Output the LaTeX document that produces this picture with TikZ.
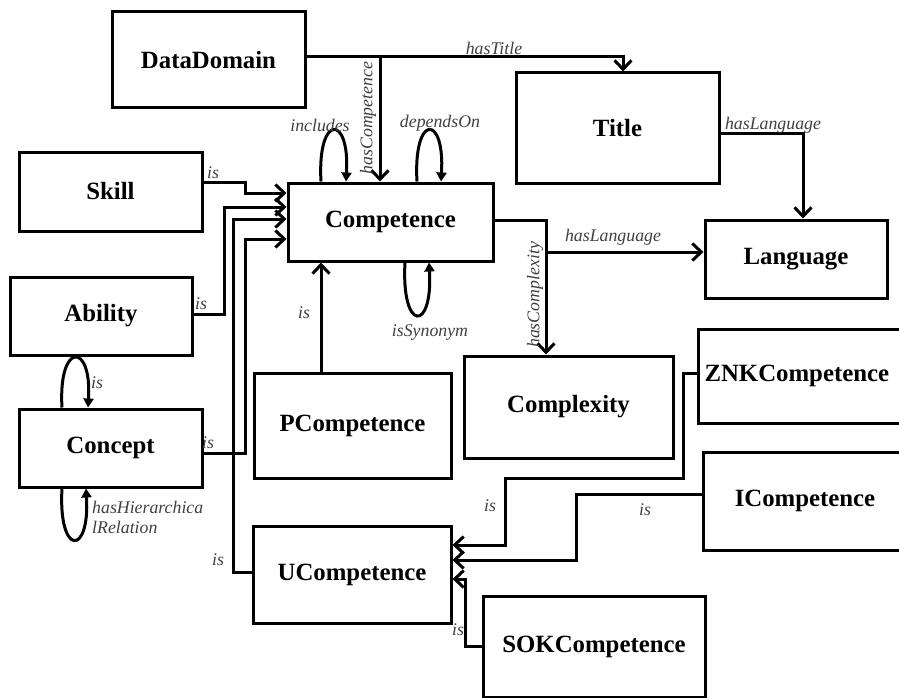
\documentclass[tikz,border=0pt]{standalone}
\usepackage{fontspec}
\setmainfont{Liberation Serif}
\usetikzlibrary{arrows.meta}
\begin{document}
\begin{tikzpicture}[x=1pt,y=-1pt,
  box/.style={draw, line width=3pt, inner sep=0pt, font=\bfseries\fontsize{24.8}{28}\selectfont},
  lbl/.style={font=\itshape\fontsize{17.8}{20}\selectfont, text=black!75, inner sep=0pt},
  conn/.style={line width=3pt, -{Straight Barb[length=9pt,width=17pt]}},
  selfloop/.style={line width=3pt, -{Triangle[length=9pt,width=10pt]}}]
\useasboundingbox (0,0) rectangle (899,698);
% nodes
\node[box, minimum width=193pt, minimum height=96pt] (DataDomain) at (208.5,60) {DataDomain};
\node[box, minimum width=203pt, minimum height=110pt] (Title) at (617.5,128) {Title};
\node[box, minimum width=183pt, minimum height=79pt] (Skill) at (110.5,191.5) {Skill};
\node[box, minimum width=205pt, minimum height=78pt] (Competence) at (390.5,222) {Competence};
\node[box, minimum width=182pt, minimum height=78pt] (Language) at (796,259) {Language};
\node[box, minimum width=182pt, minimum height=78pt] (Ability) at (101,316) {Ability};
\node[box, minimum width=183pt, minimum height=78pt] (Concept) at (110.5,448) {Concept};
\node[box, minimum width=197pt, minimum height=105pt] (PCompetence) at (352.5,425.5) {PCompetence};
\node[box, minimum width=209pt, minimum height=102pt] (Complexity) at (568.5,407) {Complexity};
\node[box, anchor=west, text width=200pt, align=left, inner xsep=6pt, minimum height=94pt] (ZNKCompetence) at (697,376) {ZNKCompetence};
\node[box, minimum width=204pt, minimum height=98pt] (ICompetence) at (805,501) {ICompetence};
\node[box, minimum width=198pt, minimum height=97pt] (UCompetence) at (352,574.5) {UCompetence};
\node[box, minimum width=222pt, minimum height=101pt] (SOKCompetence) at (594,646.5) {SOKCompetence};
% connectors
\coordinate (hc) at (380,57);
\draw[conn] ([yshift=3pt]DataDomain.east) -| ([xshift=5.5pt]Title.north);
\draw[conn] (hc) -- (hc |- Competence.north);
\draw[conn] ([yshift=9.5pt]Skill.east) -- ++(42,0) |- ([yshift=29pt]Competence.west);
\draw[conn] ([yshift=2pt]Ability.east) -- ++(31,0) |- ([yshift=15pt]Competence.west);
\draw[conn] ([yshift=2.5pt]UCompetence.west) -- ++(-18,0) |- ([yshift=3pt]Competence.west);
\draw[conn] ([yshift=-5pt]Concept.east) -- ++(42,0) |- ([yshift=-17pt]Competence.west);
\draw[conn] ([xshift=-31.5pt]PCompetence.north) -- ([xshift=-69.5pt]Competence.south);
\draw[conn] ([yshift=2pt]Competence.east) -| ([xshift=-22.5pt]Complexity.north);
\coordinate (br) at (546,252);
\draw[conn] (br) -- (br -| Language.west);
\draw[conn] ([yshift=-6pt]Title.east) -| ([xshift=7pt]Language.north);
\draw[conn] ([yshift=3pt]ZNKCompetence.west) -- ++(-14,0) -- ++(0,105) -- ++(-178,0) |- ([yshift=29.5pt]UCompetence.east);
\draw[conn] ([yshift=7pt]ICompetence.west) -- ++(-125,0) |- ([yshift=14.5pt]UCompetence.east);
\draw[conn] (SOKCompetence.west) -- ++(-16,0) |- ([yshift=-4.5pt]UCompetence.east);
% self loops
\draw[selfloop] ([xshift=-69.5pt]Competence.north) .. controls +(-4,-68) and +(4,-68) .. ([xshift=-44.5pt]Competence.north);
\draw[selfloop] ([xshift=26.5pt]Competence.north) .. controls +(-4,-68) and +(4,-68) .. ([xshift=50.5pt]Competence.north);
\draw[selfloop] ([xshift=14.5pt]Competence.south) .. controls +(-4,70) and +(4,70) .. ([xshift=38.5pt]Competence.south);
\draw[selfloop] ([xshift=-48.5pt]Concept.north) .. controls +(-4,-66) and +(4,-66) .. ([xshift=-22.5pt]Concept.north);
\draw[selfloop] ([xshift=-48.5pt]Concept.south) .. controls +(-4,68) and +(4,68) .. ([xshift=-24.5pt]Concept.south);
% labels
\node[lbl] (lHasTitle) at (494,48) {hasTitle};
\node[lbl, rotate=90] (lHasComp) at (368,118) {hasCompetence};
\node[lbl] (lIncludes) at (320,125) {includes};
\node[lbl] (lDepends) at (440,123) {dependsOn};
\node[lbl] (lSkillIs) at (213,173) {is};
\node[lbl] (lAbilityIs) at (201,304) {is};
\node[lbl] (lConceptLoop) at (97,383) {is};
\node[lbl] (lConceptIs) at (208,443) {is};
\node[lbl] (lUCompIs) at (218,560) {is};
\node[lbl, anchor=north west, align=left] (lHier) at (92,501) {hasHierarchica\\lRelation};
\node[lbl] (lPCompIs) at (304,313) {is};
\node[lbl] (lSyn) at (430,333) {isSynonym};
\node[lbl] (lTitleLang) at (773,125) {hasLanguage};
\node[lbl] (lCompLang) at (613,237) {hasLanguage};
\node[lbl, rotate=90] (lComplex) at (535,295) {hasComplexity};
\node[lbl] (lZNKIs) at (490,506) {is};
\node[lbl] (lICompIs) at (645,510) {is};
\node[lbl] (lSOKIs) at (458,630) {is};
\end{tikzpicture}
\end{document}
